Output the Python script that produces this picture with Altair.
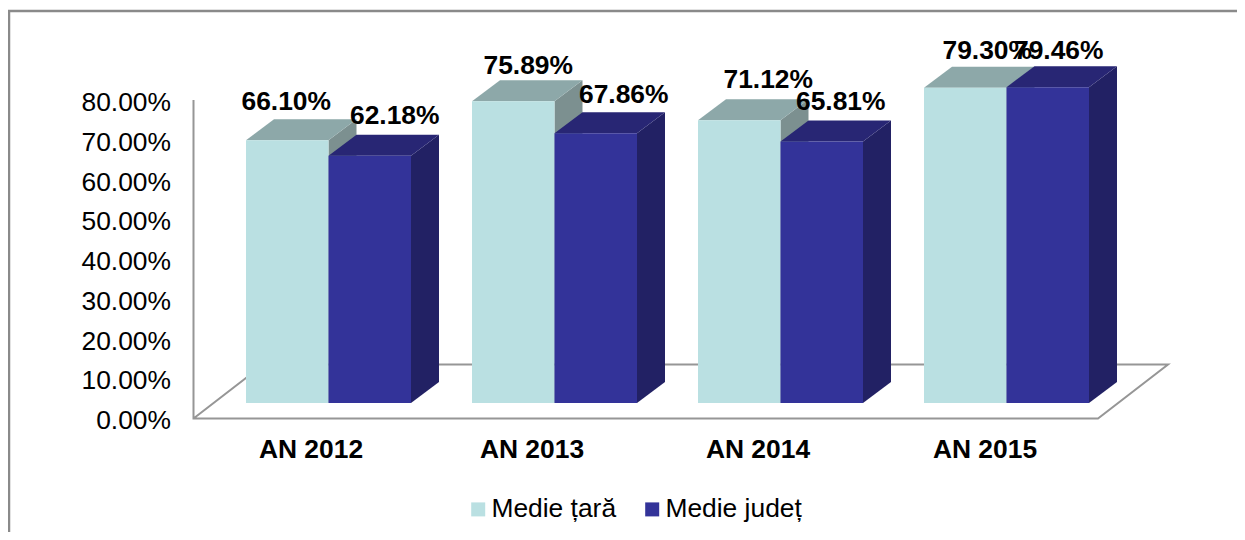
import altair as alt
import pandas as pd

# ---- values ----
CATEGORIES = ["AN 2012", "AN 2013", "AN 2014", "AN 2015"]
MEDIE_TARA = [66.10, 75.89, 71.12, 79.30]
MEDIE_JUDET = [62.18, 67.86, 65.81, 79.46]
SERIES = ["Medie țară", "Medie județ"]
Y_TICKS = [0, 10, 20, 30, 40, 50, 60, 70, 80]

# ---- hand placement of the labels (px relative to bar centre / bar top / category) ----
LABEL_DX_TARA = [-1, 15, 29, 22]
LABEL_DX_JUDET = [25, 28, 19, 11]
LABEL_DY_TARA = [-39, -36, -41, -38]
LABEL_DY_JUDET = [-41, -39, -40, -37]
CAT_DX = [65, 60, 60, 61]

# ---- geometry ----
W, H = 1229, 524
PX_X = 226.0      # px per category
PX_Y = 3.975      # px per percentage point
X0_PAGE = 246.0   # page x of first bar
Y0_PAGE = 420.0   # page y of 0 %
BAR_W = 82.5 / PX_X
BASE = (Y0_PAGE - 403) / PX_Y
DEPTH_X = 28 / PX_X
DEPTH_Y = 21 / PX_Y
FLOOR_X = 70 / PX_X
FLOOR_Y = 54 / PX_Y
FLOOR_L = (193.5 - X0_PAGE) / PX_X
FLOOR_R = (1098 - X0_PAGE) / PX_X
FLOOR_V = 0.38
WALL_TOP = 80.5

x_dom = [(8 - X0_PAGE) / PX_X, (8 + W - X0_PAGE) / PX_X]
y_dom = [(Y0_PAGE - 8 - H) / PX_Y, (Y0_PAGE - 8) / PX_Y]
XS = alt.Scale(domain=x_dom, range=[0, W], nice=False, zero=False)
YS = alt.Scale(domain=y_dom, range=[H, 0], nice=False, zero=False)

X = alt.X("x:Q", scale=XS, axis=None)
Y = alt.Y("y:Q", scale=YS, axis=None)
X2 = alt.X2("x2:Q")
Y2 = alt.Y2("y2:Q")

LIGHT, LIGHT_TOP, LIGHT_SIDE = "#BAE0E2", "#8DA8A9", "#7C9090"
DARK, DARK_TOP, DARK_SIDE = "#333399", "#282674", "#222164"
GREY = "#969696"
FRAME = "#8A8A8A"
FONT = "Liberation Sans"
FS = 26.4


def faces(values, start):
    front, top, side = [], [], []
    for i, v in enumerate(values):
        l = i + start
        r = l + BAR_W
        t = BASE + v
        front.append({"x": l, "x2": r, "y": t, "y2": BASE, "s": SERIES[0 if start == 0 else 1]})
        for x, a, b in [(l, t, t), (l + DEPTH_X, t, t + DEPTH_Y),
                        (r, t, t + DEPTH_Y), (r + DEPTH_X, t + DEPTH_Y, t + DEPTH_Y)]:
            top.append({"x": x, "y": a, "y2": b, "k": i})
        for x, a, b in [(r, BASE, t), (r + DEPTH_X, BASE + DEPTH_Y, t + DEPTH_Y)]:
            side.append({"x": x, "y": a, "y2": b, "k": i})
    return pd.DataFrame(front), pd.DataFrame(top), pd.DataFrame(side)


def poly(df, color):
    return alt.Chart(df).mark_area(color=color, orient="vertical", interpolate="linear").encode(
        x=X, y=alt.Y("y:Q", scale=YS, axis=None, stack=None), y2=Y2, detail="k:N")


def seg(points):
    return alt.Chart(pd.DataFrame(points)).mark_line(color=GREY, strokeWidth=2).encode(
        x=alt.X("x:Q", scale=XS, axis=None, sort=None),
        y=Y, order="o:Q")


floor = seg([
    {"x": FLOOR_L, "y": WALL_TOP, "o": 0},
    {"x": FLOOR_L, "y": FLOOR_V, "o": 1},
    {"x": FLOOR_R, "y": FLOOR_V, "o": 2},
    {"x": FLOOR_R + FLOOR_X, "y": FLOOR_V + FLOOR_Y, "o": 3},
    {"x": FLOOR_L + FLOOR_X, "y": FLOOR_V + FLOOR_Y, "o": 4},
    {"x": FLOOR_L, "y": FLOOR_V, "o": 5},
])

f1, t1, s1 = faces(MEDIE_TARA, 0)
f2, t2, s2 = faces(MEDIE_JUDET, BAR_W)

color = alt.Color("s:N", scale=alt.Scale(domain=SERIES, range=[LIGHT, DARK]),
                  legend=alt.Legend(title=None, orient="none", legendX=457, legendY=488,
                                    direction="horizontal", columns=2, symbolType="square",
                                    symbolSize=196, symbolStrokeWidth=0, labelFontSize=FS,
                                    labelFont=FONT, labelColor="#000000", symbolOffset=0,
                                    labelOffset=0, columnPadding=22, padding=0))


def front(df):
    return alt.Chart(df).mark_rect().encode(x=X, x2=X2, y=Y, y2=Y2, color=color)


tick_df = pd.DataFrame({
    "x": [(171 - X0_PAGE) / PX_X] * len(Y_TICKS),
    "y": Y_TICKS,
    "t": [f"{v:.2f}%" for v in Y_TICKS],
})
tick_labels = alt.Chart(tick_df).mark_text(
    font=FONT, fontSize=FS, color="#000000", baseline="middle", align="right", dy=1
).encode(x=X, y=Y, text="t:N")

rows = []
for i in range(len(CATEGORIES)):
    for j, (vals, dxs, dys) in enumerate([(MEDIE_TARA, LABEL_DX_TARA, LABEL_DY_TARA),
                                          (MEDIE_JUDET, LABEL_DX_JUDET, LABEL_DY_JUDET)]):
        rows.append({
            "x": i + j * BAR_W + BAR_W / 2 + dxs[i] / PX_X,
            "y": BASE + vals[i] - dys[i] / PX_Y,
            "t": f"{vals[i]:.2f}%",
        })
value_labels = alt.Chart(pd.DataFrame(rows)).mark_text(
    font=FONT, fontSize=FS, fontWeight="bold", color="#000000", baseline="middle", align="center", dy=1
).encode(x=X, y=Y, text="t:N")

cat_df = pd.DataFrame({
    "x": [i + CAT_DX[i] / PX_X for i in range(len(CATEGORIES))],
    "y": [(Y0_PAGE - 449) / PX_Y] * len(CATEGORIES),
    "t": CATEGORIES,
})
cat_labels = alt.Chart(cat_df).mark_text(
    font=FONT, fontSize=FS, fontWeight="bold", color="#000000", baseline="middle", align="center", dy=1
).encode(x=X, y=Y, text="t:N")

frame_top = alt.Chart(pd.DataFrame({"a": [0]})).mark_rule(color=FRAME, strokeWidth=2.5).encode(
    x=alt.value(0), x2=alt.value(W), y=alt.value(3))
frame_left = alt.Chart(pd.DataFrame({"a": [0]})).mark_rule(color=FRAME, strokeWidth=2.5).encode(
    x=alt.value(1), y=alt.value(3), y2=alt.value(H))

chart = alt.layer(
    frame_top, frame_left, floor,
    poly(s1, LIGHT_SIDE), poly(t1, LIGHT_TOP), front(f1),
    poly(s2, DARK_SIDE), poly(t2, DARK_TOP), front(f2),
    tick_labels, value_labels, cat_labels,
).properties(
    width=W, height=H, padding=0,
    autosize=alt.AutoSizeParams(type="none"), background="#FFFFFF",
).configure_view(stroke=None)

chart.save("out.html", embed_options={"renderer": "svg", "actions": False})
